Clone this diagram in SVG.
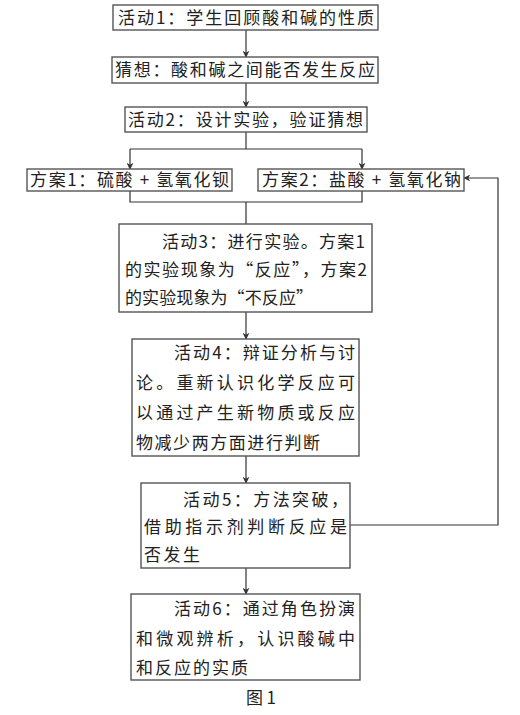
<svg xmlns="http://www.w3.org/2000/svg" width="520" height="715" viewBox="0 0 520 715">
<style>
.box{fill:#fff;stroke:#555;stroke-width:1.4}
.t{font-family:"Noto Sans CJK SC","Noto Sans CJK JP",sans-serif;font-size:17px;fill:#222}
.c{fill:none;stroke:#333;stroke-width:1.2}
</style>
<defs>
<marker id="ah" viewBox="0 0 10 10" refX="9" refY="5" markerWidth="7" markerHeight="7" markerUnits="userSpaceOnUse" orient="auto">
<path d="M0,0 L10,5 L0,10 L3,5 Z" fill="#333"/>
</marker>
</defs>
<rect width="520" height="715" fill="#fff"/>
<g id="connectors">
<path class="c" d="M246,30 V57" marker-end="url(#ah)"/>
<path class="c" d="M246,83 V107" marker-end="url(#ah)"/>
<path class="c" d="M246,132 V149 M130,149 H362"/>
<path class="c" d="M130,149 V169" marker-end="url(#ah)"/>
<path class="c" d="M362,149 V169" marker-end="url(#ah)"/>
<path class="c" d="M130,191 V202 H362 V191 M246,202 V224"/>
<path class="c" d="M246,312 V339" marker-end="url(#ah)"/>
<path class="c" d="M246,456 V483" marker-end="url(#ah)"/>
<path class="c" d="M246,568 V594" marker-end="url(#ah)"/>
<path class="c" d="M350,525 H498 V178 H464" marker-end="url(#ah)"/>
</g>
<g id="n1">
<rect class="box" x="113" y="5" width="265" height="25"/>
<text class="t" x="118" y="24" font-size="17.5" textLength="256" lengthAdjust="spacing">活动1：学生回顾酸和碱的性质</text>
</g>
<g id="n2">
<rect class="box" x="112" y="57" width="266" height="26"/>
<text class="t" x="115" y="76" font-size="17.5" textLength="260" lengthAdjust="spacing">猜想：酸和碱之间能否发生反应</text>
</g>
<g id="n3">
<rect class="box" x="125" y="107" width="242" height="25"/>
<text class="t" x="128" y="126" font-size="17.5" textLength="235" lengthAdjust="spacing">活动2：设计实验，验证猜想</text>
</g>
<g id="nA">
<rect class="box" x="27" y="169" width="205" height="22"/>
<text class="t" x="30" y="186" textLength="199" lengthAdjust="spacing">方案1：硫酸 + 氢氧化钡</text>
</g>
<g id="nB">
<rect class="box" x="258" y="169" width="206" height="22"/>
<text class="t" x="262" y="186" textLength="199" lengthAdjust="spacing">方案2：盐酸 + 氢氧化钠</text>
</g>
<g id="n4">
<rect class="box" x="119" y="224" width="253" height="88"/>
<text class="t" x="162" y="248" textLength="203" lengthAdjust="spacing">活动3：进行实验。方案1</text>
<text class="t" x="125" y="276" textLength="242" lengthAdjust="spacing">的实验现象为“反应”，方案2</text>
<text class="t" x="125" y="304" textLength="188" lengthAdjust="spacing">的实验现象为“不反应”</text>
</g>
<g id="n5">
<rect class="box" x="132" y="339" width="227" height="117"/>
<text class="t" x="174" y="359" textLength="181" lengthAdjust="spacing">活动4：辩证分析与讨</text>
<text class="t" x="136" y="389" textLength="219" lengthAdjust="spacing">论。重新认识化学反应可</text>
<text class="t" x="136" y="419" textLength="219" lengthAdjust="spacing">以通过产生新物质或反应</text>
<text class="t" x="136" y="449" textLength="184" lengthAdjust="spacing">物减少两方面进行判断</text>
</g>
<g id="n6">
<rect class="box" x="141" y="483" width="209" height="85"/>
<text class="t" x="183" y="506" textLength="165" lengthAdjust="spacing">活动5：方法突破，</text>
<text class="t" x="144" y="533" textLength="203" lengthAdjust="spacing">借助指示剂判断反应是</text>
<text class="t" x="144" y="561" textLength="56" lengthAdjust="spacing">否发生</text>
</g>
<g id="n7">
<rect class="box" x="131" y="594" width="229" height="86"/>
<text class="t" x="174" y="615" textLength="181" lengthAdjust="spacing">活动6：通过角色扮演</text>
<text class="t" x="136" y="645" textLength="219" lengthAdjust="spacing">和微观辨析，认识酸碱中</text>
<text class="t" x="136" y="674" textLength="112" lengthAdjust="spacing">和反应的实质</text>
</g>
<g id="caption">
<text class="t" x="246" y="704" font-size="18" textLength="30" lengthAdjust="spacing">图1</text>
</g>
</svg>
